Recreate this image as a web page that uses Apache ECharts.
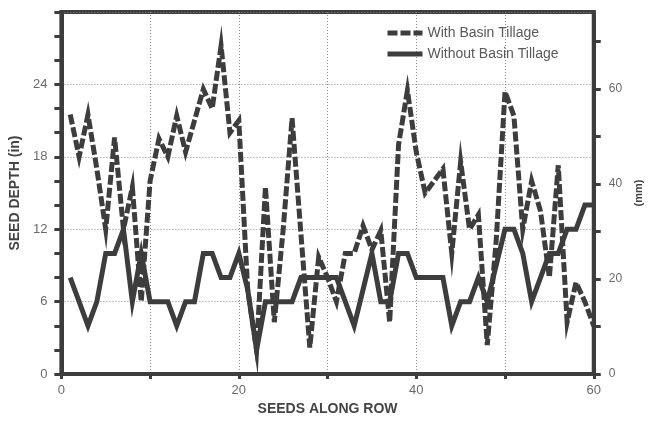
<!DOCTYPE html>
<html>
<head>
<meta charset="utf-8">
<script src="https://cdn.jsdelivr.net/npm/echarts@6/dist/echarts.min.js"></script>
<style>
html,body{margin:0;padding:0;background:#fff;}
#chart{width:652px;height:421px;}
</style>
</head>
<body>
<div id="chart"></div>
<script>
const seeds = [1,2,3,4,5,6,7,8,9,10,11,12,13,14,15,16,17,18,19,20,21,22,23,24,25,26,27,28,29,30,
  31,32,33,34,35,36,37,38,39,40,41,42,43,44,45,46,47,48,49,50,51,52,53,54,55,56,57,58,59,60];
const withTillage = [21.5,18,21.5,17,12,19.6,12,15.5,6,16,19.5,18,21.4,18.4,21,23.6,22,27.2,20,21,
  7,2,15.5,4.3,12,21.2,11.6,2.2,9.7,8,6,10,10,12.3,10.3,11.9,4.3,19,23.5,18.4,
  15,16,17,10,17.6,12,13.2,2.4,11,23.4,21.4,12,16,13.5,8,17.3,4.3,7.6,6,4];
const withoutTillage = [8,6,4,6,10,10,12,6,10,6,6,6,4,6,6,10,10,8,8,10,
  7,2,6,6,6,6,8,8,8,8,8,6,4,7,10,6,6,10,10,8,
  8,8,8,4,6,6,8,6,9,12,12,10,6,8,10,10,12,12,14,14];
const xLabels = [0,20,40,60];
const inLabels = [0,6,12,18,24];
const mmLabels = [0,20,40,60];
const seriesNames = ['With Basin Tillage','Without Basin Tillage'];

const dark = '#3d3d3d';
const font = 'Liberation Sans, Arial, sans-serif';
const chart = echarts.init(document.getElementById('chart'), null, {renderer:'canvas'});
const grid = {left:59, right:44, top:12, bottom:41, show:true, borderColor:dark, borderWidth:4, backgroundColor:'transparent'};
const dotted = {show:true, lineStyle:{color:'#8a8a8a', width:1, type:[1,2]}};
chart.setOption({
  animation:false,
  grid: grid,
  legend: {
    left: 380, top: 21, orient:'vertical', itemWidth:35, itemHeight:14, itemGap:7,
    itemStyle:{opacity:0},
    lineStyle:{width:5},
    textStyle:{fontFamily:font, fontSize:14, color:'#5a5a5a', padding:[0,0,0,0]},
    data: seriesNames
  },
  xAxis: {
    type:'value', min:0, max:60, interval:10,
    name:'SEEDS ALONG ROW', nameLocation:'middle', nameGap:25,
    nameTextStyle:{fontFamily:font, fontSize:14, fontWeight:'bold', color:'#444'},
    axisLine:{lineStyle:{color:dark, width:4}},
    axisTick:{show:true, length:5, lineStyle:{color:dark, width:3}},
    axisLabel:{customValues:xLabels, fontFamily:font, fontSize:13, color:'#6a6a6a', margin:10},
    splitLine: dotted
  },
  yAxis: [{
    type:'value', min:0, max:30, interval:6, position:'left',
    name:'SEED DEPTH (in)', nameLocation:'middle', nameGap:35,
    nameTextStyle:{fontFamily:font, fontSize:14, fontWeight:'bold', color:'#444'},
    axisLine:{show:true, lineStyle:{color:dark, width:4}},
    axisTick:{show:true, length:7, lineStyle:{color:dark, width:3}},
    minorTick:{show:true, splitNumber:3, length:7, lineStyle:{color:dark, width:3}},
    axisLabel:{customValues:inLabels, fontFamily:font, fontSize:13, color:'#6a6a6a', margin:14},
    splitLine: dotted
  },{
    type:'value', min:0, max:76.2, interval:10, position:'right',
    name:'(mm)', nameLocation:'middle', nameGap:28, nameRotate:90,
    nameTextStyle:{fontFamily:font, fontSize:11, fontWeight:'bold', color:'#444'},
    axisLine:{show:true, lineStyle:{color:dark, width:4}},
    axisTick:{show:true, length:7, customValues:[0,10,20,30,40,50,60,70], lineStyle:{color:dark, width:3}},
    axisLabel:{customValues:mmLabels, fontFamily:font, fontSize:12, color:'#6a6a6a', margin:15},
    splitLine:{show:false}
  }],
  series: [{
    name: seriesNames[0], type:'line', yAxisIndex:0, symbol:'none',
    data: seeds.map((s,i)=>[s, withTillage[i]]),
    lineStyle:{color:dark, width:5, type:[10,3], cap:'butt', join:'miter'},
    itemStyle:{color:dark}
  },{
    name: seriesNames[1], type:'line', yAxisIndex:0, symbol:'none',
    data: seeds.map((s,i)=>[s, withoutTillage[i]]),
    lineStyle:{color:dark, width:5, join:'miter'},
    itemStyle:{color:dark}
  }]
});
</script>
</body>
</html>
